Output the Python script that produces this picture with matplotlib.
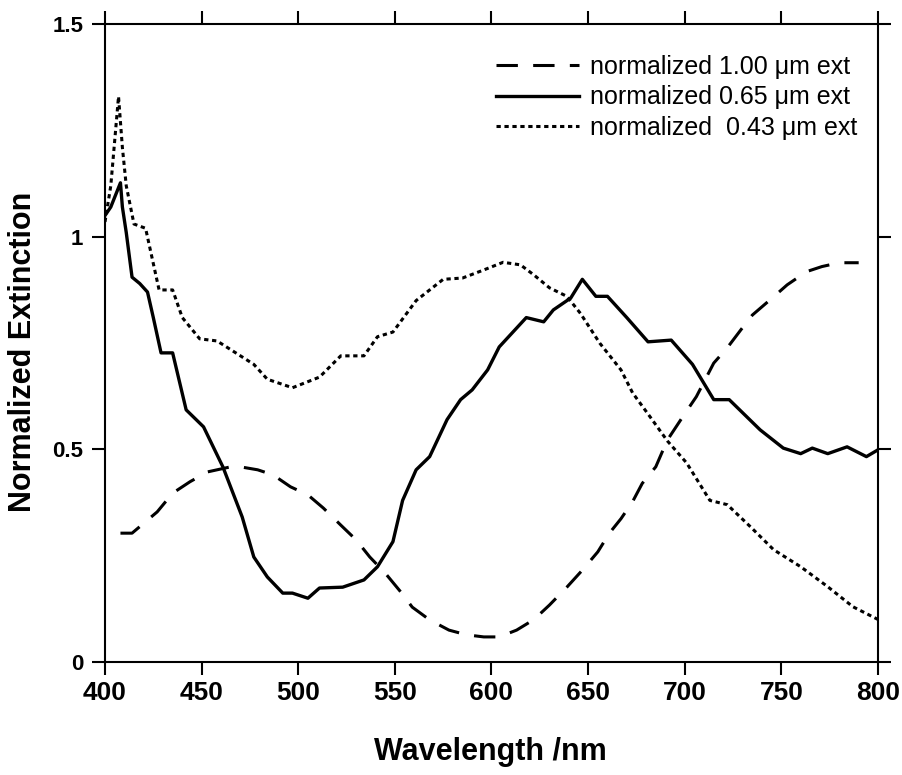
import matplotlib
matplotlib.use("Agg")
import matplotlib.pyplot as plt

# Datos (longitud de onda en nm, extincion normalizada)
wl_100 = [408, 414, 427, 435, 444, 453, 465, 470, 479, 487, 496, 505, 513, 522,
          530, 537, 545, 553, 559, 568, 578, 587, 596, 604, 613, 622, 630, 639,
          647, 655, 661, 667, 673, 678, 685, 691, 699, 706, 715, 722, 729, 735,
          746, 753, 763, 771, 780, 790]
ext_100 = [0.303, 0.303, 0.353, 0.397, 0.424, 0.447, 0.459, 0.459, 0.452, 0.44,
           0.412, 0.393, 0.362, 0.322, 0.287, 0.247, 0.209, 0.165, 0.129, 0.099,
           0.075, 0.064, 0.059, 0.059, 0.075, 0.10, 0.134, 0.176, 0.216, 0.259,
           0.303, 0.337, 0.377, 0.42, 0.459, 0.522, 0.577, 0.624, 0.703, 0.739,
           0.781, 0.816, 0.859, 0.887, 0.918, 0.93, 0.939, 0.939]

wl_065 = [400, 403, 408, 409, 411, 414, 418, 422, 425, 429, 435, 442, 451, 461,
          471, 477, 484, 492, 497, 505, 511, 523, 534, 541, 549, 554, 561, 568,
          577, 584, 590, 598, 604, 618, 627, 632, 641, 647, 654, 660, 670, 681,
          693, 704, 715, 723, 739, 751, 760, 766, 774, 784, 794, 800]
ext_065 = [1.05, 1.07, 1.127, 1.07, 1.01, 0.905, 0.89, 0.87, 0.81, 0.727, 0.727,
           0.593, 0.553, 0.459, 0.341, 0.247, 0.20, 0.162, 0.162, 0.15, 0.174,
           0.176, 0.193, 0.224, 0.283, 0.38, 0.452, 0.483, 0.57, 0.617, 0.64,
           0.687, 0.741, 0.81, 0.80, 0.828, 0.856, 0.90, 0.86, 0.86, 0.81,
           0.753, 0.757, 0.70, 0.617, 0.617, 0.546, 0.503, 0.49, 0.503, 0.49,
           0.506, 0.483, 0.499]

wl_043 = [400, 403, 407, 409, 411, 415, 421, 428, 435, 440, 449, 458, 477, 484,
          497, 511, 522, 534, 541, 549, 561, 575, 585, 596, 606, 615, 622, 630,
          639, 646, 656, 667, 673, 682, 691, 701, 713, 722, 734, 746, 760, 774,
          787, 800]
ext_043 = [1.035, 1.12, 1.33, 1.21, 1.12, 1.03, 1.02, 0.875, 0.875, 0.81, 0.76,
           0.755, 0.70, 0.665, 0.645, 0.67, 0.72, 0.72, 0.765, 0.776, 0.85, 0.90,
           0.903, 0.922, 0.94, 0.934, 0.91, 0.88, 0.86, 0.82, 0.75, 0.687, 0.633,
           0.577, 0.52, 0.468, 0.38, 0.37, 0.318, 0.264, 0.224, 0.177, 0.13, 0.10]

plt.rcParams['font.family'] = 'Liberation Sans'

fig = plt.figure(figsize=(9.02, 7.75), dpi=100)
ax = fig.add_axes([0.1164, 0.1458, 0.857, 0.823])

ax.plot(wl_100, ext_100, color='black', lw=2.2, dashes=(7, 5),
        label='normalized 1.00 \u03bcm ext')
ax.plot(wl_065, ext_065, color='black', lw=2.4,
        label='normalized 0.65 \u03bcm ext')
ax.plot(wl_043, ext_043, color='black', lw=2.2, dashes=(1.4, 1.2),
        label='normalized  0.43 \u03bcm ext')

ax.set_xlim(400, 800)
ax.set_ylim(0, 1.5)
ax.set_xticks([400, 450, 500, 550, 600, 650, 700, 750, 800])
ax.set_yticks([0, 0.5, 1, 1.5])
ax.set_yticklabels(['0', '0.5', '1', '1.5'])

for s in ax.spines.values():
    s.set_linewidth(1.5)
ax.tick_params(direction='out', length=9.5, width=1.5, top=True, right=True)
ax.tick_params(axis='x', labelsize=19, pad=4)
ax.tick_params(axis='y', labelsize=16, pad=6)
for lab in ax.get_xticklabels() + ax.get_yticklabels():
    lab.set_fontweight('bold')

ax.set_xlabel('Wavelength /nm', fontsize=22, fontweight='bold')
ax.set_ylabel('Normalized Extinction', fontsize=22, fontweight='bold')
ax.xaxis.set_label_coords(0.498, -0.118)
ax.yaxis.set_label_coords(-0.087, 0.486)

ax.legend(loc='upper right', bbox_to_anchor=(0.973, 0.952), frameon=False,
          borderpad=0, borderaxespad=0,
          handlelength=3.3, handletextpad=0.45, labelspacing=0.26,
          prop={'size': 18})

plt.savefig('out.png', dpi=100)
